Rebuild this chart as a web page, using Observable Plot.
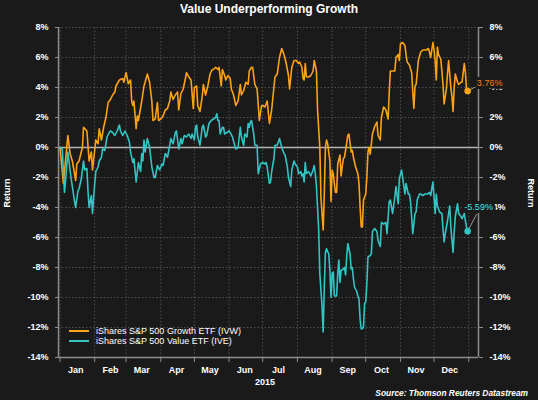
<!DOCTYPE html>
<html><head><meta charset="utf-8">
<script src="https://cdn.jsdelivr.net/npm/d3@7"></script>
<script src="https://cdn.jsdelivr.net/npm/@observablehq/plot@0.6"></script>
<style>
html,body{margin:0;padding:0;background:#1a1a1a;}
#wrap{position:relative;width:538px;height:400px;background:#1a1a1a;font-family:"Liberation Sans",Arial,sans-serif;color:#fff;overflow:hidden}
#wrap svg{position:absolute;left:0;top:0}
.title{position:absolute;left:0;top:2px;width:538px;text-align:center;font-weight:bold;font-size:12px;line-height:14px}
.ylab{position:absolute;top:193px;font-weight:bold;font-size:9px;line-height:10px;white-space:nowrap}
.legend{position:absolute;left:69px;font-size:9px;line-height:10px;height:10px;display:flex;align-items:center;white-space:nowrap}
.legend span.sw{display:inline-block;width:20px;height:2px;margin-right:7px}
.source{position:absolute;right:10px;top:388px;font-size:8.4px;line-height:10px;font-weight:bold;font-style:italic;white-space:nowrap}
</style></head>
<body><div id="wrap"></div>
<script>
// Day of year 2015 (0 = Jan 1) and cumulative return (%)
const growthDay = [0,3,7,9,11,14,15,17,20,21,24,26,28,29,32,34,35,37,39,41,43,45,47,49,50,53,56,57,59,61,63,64,65,66,68,69,70,73,75,76,78,80,82,83,85,87,88,
90,92,94,96,98,99,101,103,105,106,108,110,112,113,115,117,119,120,122,123,125,127,128,130,132,134,136,137,139,141,142,144,145,147,148,150,152,153,155,157,159,161,162,164,166,168,169,171,172,174,176,178,180,181,183,
185,187,189,191,192,194,196,198,200,202,204,205,207,209,211,213,214,216,217,218,219,220,222,224,226,227,229,230,232,233,235,236,237,238,239,241,242,243,244,245,246,247,248,250,251,252,253,254,255,257,258,260,261,262,264,266,267,268,269,270,271,273,274,275,276,277,279,281,
283,284,286,287,289,291,293,294,295,297,299,300,302,303,304,306,308,309,310,311,312,314,315,316,317,318,320,322,324,325,327,329,330,331,333,334,335,336,337,338,340,341,342,343,345,346,347,349,350,351,352,353,355,356,358,359,361,362,363,364];
const growthRet = [0,-2.4,0.8,-0.4,-0.9,-2.2,-1.1,-0.9,0,1.35,1.1,-0.9,-0.3,-1.5,0.5,0.25,1.25,0.5,1.35,2.0,3.0,3.2,3.5,3.7,4.1,4.5,4.6,4.35,5.0,4.25,4.5,3.1,2.8,3.1,1.25,2.1,1.8,3.1,4.1,4.35,4.9,4.35,3.1,1.8,1.9,3.0,1.8,
1.9,2.1,2.5,2.6,3.1,3.7,3.2,3.5,3.7,2.5,3.6,3.9,4.6,5.0,4.7,4.5,2.6,4.0,4.1,2.8,2.4,3.4,4.2,3.5,4.1,4.9,5.2,5.2,5.35,5.2,5.35,4.1,5.2,4.8,4.5,4.8,4.6,3.9,3.5,2.8,3.1,4.2,3.5,3.8,4.35,4.2,5.1,5.35,5.35,4.2,3.9,1.8,2.8,2.8,2.7,
3.1,1.6,2.5,4.0,4.7,4.9,6.0,6.6,6.2,5.6,4.8,3.9,5.35,5.8,5.8,5.6,5.7,5.35,4.6,4.5,5.6,4.7,4.7,4.8,5.1,5.8,5.1,2.5,0,-3.3,-5.5,-3.1,0,0.5,0.25,-0.9,-3.6,-1.5,-1.75,-2.4,-3.0,-3.0,-1.1,-0.5,-1.9,-1.3,-0.75,-0.65,-0.2,0.8,0.9,-0.3,-0.2,-0.65,-1.3,-1.75,-2.4,-4.0,-5.3,-5.3,-3.5,-3.1,-2.0,-0.3,0,-0.45,0.9,1.4,
1.7,0.8,0.5,2.0,2.7,2.5,1.9,3.7,5.1,5.1,5.1,6.0,6.2,5.8,6.9,7.0,6.8,6.2,5.7,5.6,5.5,5.0,3.7,2.6,4.1,4.2,5.8,6.35,6.5,6.5,6.5,6.6,6.35,6.0,7.0,6.5,5.8,4.5,6.7,6.2,5.9,5.1,4.2,2.9,3.9,4.9,5.8,4.0,3.4,2.4,4.0,4.9,4.35,4.2,4.35,4.35,5.6,5.0,3.9,3.76];

const valueDay = [0,2,4,5,7,8,10,12,13,14,16,17,19,21,22,24,25,26,28,29,31,32,34,35,37,38,40,42,44,45,47,49,51,53,54,56,58,60,62,63,65,66,68,70,72,73,74,75,76,78,80,82,84,85,87,89,
91,92,94,96,98,99,101,103,104,106,108,109,111,113,115,117,118,120,121,122,123,125,127,128,130,131,133,135,137,139,140,141,142,143,145,146,147,149,151,152,154,156,157,159,161,162,164,165,167,168,169,170,171,173,174,176,177,179,181,183,184,185,187,188,189,191,192,194,196,198,200,201,203,204,206,207,209,210,212,213,215,216,217,218,219,220,222,224,226,227,228,229,
231,232,234,235,236,237,238,240,241,242,243,244,245,247,248,249,250,251,253,254,255,256,257,259,260,261,262,263,265,266,267,268,269,271,272,273,274,275,277,278,279,281,283,284,286,287,289,291,292,294,295,297,299,300,302,303,305,306,308,309,311,312,313,314,315,317,318,319,321,322,324,326,328,330,331,333,334,335,336,337,339,341,342,343,344,346,347,348,349,351,352,353,355,356,358,359,361,362,363,364];
const valueRet = [0,-0.1,-3.0,-2.2,-0.3,-0.9,-2.1,-3.1,-3.6,-4.0,-2.9,-2.75,-2.1,-0.9,-1.5,-1.4,-2.9,-4.0,-3.2,-4.4,-2.4,-1.6,-1.3,-0.9,-0.65,-0.1,-0.2,0.7,1.0,1.1,1.0,0.8,1.1,1.5,1.1,0.8,1.1,0.8,0.35,-0.3,-1.0,-0.75,-2.3,-1.0,-1.6,-0.4,-0.9,0.5,-0.3,0.6,0,-1.3,-2.0,-2.0,-1.2,-1.5,
-1.1,-1.2,-0.4,-0.65,0.15,0.6,0.25,1.0,1.1,-0.1,0.6,0.25,0.8,0.7,0.9,0.6,0.9,0.5,1.35,1.5,0.7,0.15,1.35,1.5,0.7,0.8,1.6,1.8,1.9,2.0,2.25,1.8,1.8,0.9,1.35,1.35,0.9,1.0,1.1,1.0,0.7,0.15,-0.1,0,1.35,0.7,0.15,0.9,0.7,1.6,1.35,1.7,1.8,0.9,0.15,0.15,-1.75,-1.1,-1.0,-1.1,-1.0,-1.3,-2.4,-2.3,-1.6,-0.75,0.15,0.15,0.6,0,-0.4,-0.5,-1.3,-2.0,-2.6,-1.5,-0.9,-1.1,-1.3,-1.75,-1.6,-1.9,-1.75,-2.3,-1.0,-1.75,-1.6,-1.9,-1.5,-1.2,-1.75,-2.6,
-5.5,-8.4,-10.6,-12.3,-9.3,-7.0,-6.75,-7.1,-8.2,-10.0,-8.4,-8.3,-9.9,-9.9,-8.4,-7.5,-9.0,-8.2,-8.1,-8.0,-8.5,-7.3,-6.4,-7.1,-8.1,-8.0,-8.75,-9.3,-9.6,-9.9,-10.1,-11.5,-12.1,-12.0,-10.4,-10.3,-9.1,-7.3,-7.2,-7.1,-5.6,-5.4,-5.6,-6.2,-6.6,-5.0,-5.1,-5.0,-5.75,-3.6,-3.5,-4.4,-3.3,-2.6,-3.75,-2.1,-1.5,-2.0,-3.1,-2.4,-3.1,-3.1,-3.6,-4.6,-5.75,-4.4,-4.3,-3.5,-3.1,-3.1,-3.2,-3.1,-3.1,-3.0,-3.2,-2.3,-3.3,-4.4,-3.1,-3.9,-4.3,-4.4,-5.4,-6.3,-5.75,-4.9,-4.4,-3.9,-5.3,-7.0,-5.6,-4.6,-3.75,-4.4,-4.6,-4.75,-4.4,-4.9,-5.3,-5.59];

const seriesNames = ["iShares S&P 500 Growth ETF (IVW)", "iShares S&P 500 Value ETF (IVE)"];
const yTicks = [-14,-12,-10,-8,-6,-4,-2,0,2,4,6,8];
const monthLabels = ["Jan","Feb","Mar","Apr","May","Jun","Jul","Aug","Sep","Oct","Nov","Dec"];
const yearLabel = "2015";
const titleText = "Value Underperforming Growth";
const yLabel = "Return";
const sourceText = "Source: Thomson Reuters Datastream";

const bg = "#1a1a1a";
const orange = "#fba216";
const teal = "#33c4c4";
const DAY = 864e5;
const t0 = Date.UTC(2015,0,1);
const dayToDate = d => new Date(t0 + d*DAY);

const growth = growthDay.map((d,i)=>({date: dayToDate(d), ret: growthRet[i]}));
const value = valueDay.map((d,i)=>({date: dayToDate(d), ret: valueRet[i]}));
const lastG = growth[growth.length-1];
const lastV = value[value.length-1];

const monthStarts = d3.utcMonths(new Date(Date.UTC(2015,0,1)), new Date(Date.UTC(2016,0,2)));
const midMonths = monthStarts.slice(0,12).map(d => new Date(d.getTime() + 14*DAY));
const xDomain = [dayToDate(-1.34), dayToDate(373.7)];
const yearMid = dayToDate(183);

const font = {fontSize: 9, fontWeight: "bold"};
const grid = {stroke: "#505050", strokeOpacity: 1, strokeDasharray: "1.5,2"};

const chart = Plot.plot({
  width: 538, height: 400,
  marginLeft: 58, marginRight: 60, marginTop: 27, marginBottom: 43,
  style: {background: "transparent", color: "#fff", fontFamily: '"Liberation Sans", Arial, sans-serif', fontSize: "9px", fontWeight: "bold", overflow: "visible"},
  x: {type: "utc", domain: xDomain},
  y: {domain: [-14, 8]},
  marks: [
    Plot.gridY(yTicks, grid),
    Plot.gridX(monthStarts, grid),
    Plot.ruleY([0], {stroke: "#b4b4b4", strokeWidth: 1.5}),
    Plot.ruleX([xDomain[0]], {stroke: "#8c8c8c", strokeWidth: 1.5}),
    Plot.ruleX([xDomain[1]], {stroke: "#8c8c8c", strokeWidth: 1.5}),
    Plot.ruleY([-14], {stroke: "#8c8c8c", strokeWidth: 1.5}),
    Plot.line(growth, {x: "date", y: "ret", stroke: orange, strokeWidth: 1.6}),
    Plot.line(value, {x: "date", y: "ret", stroke: teal, strokeWidth: 1.6}),
    Plot.axisY(yTicks, {anchor: "left", tickFormat: d => d + "%", tickSize: 3, tickPadding: 7, stroke: "#8c8c8c", fill: "#fff", label: null, ...font}),
    Plot.axisY(yTicks, {anchor: "right", tickFormat: d => d + "%", tickSize: 4, tickPadding: 7, stroke: "#8c8c8c", fill: "#fff", label: null, ...font}),
    Plot.axisX(monthStarts, {anchor: "bottom", tickSize: 5, tickFormat: () => "", stroke: "#8c8c8c", label: null}),
    Plot.axisX(midMonths, {anchor: "bottom", tickSize: 0, tickPadding: 9, tickFormat: d => monthLabels[d.getUTCMonth()], fill: "#fff", label: null, ...font}),
    Plot.text([yearLabel], {x: () => yearMid, text: d => d, frameAnchor: "bottom", dy: 27, fill: "#fff", ...font}),
    Plot.link([lastG], {x1: "date", y1: "ret", x2: d => new Date(d.date.getTime() + 7.5*DAY), y2: d => d.ret + 0.3, stroke: "#999", strokeWidth: 1}),
    Plot.link([lastV], {x1: "date", y1: "ret", x2: d => new Date(d.date.getTime() + 8*DAY), y2: d => d.ret + 1.15, stroke: "#999", strokeWidth: 1}),
    Plot.dot([lastG], {x: "date", y: "ret", r: 3.3, fill: orange}),
    Plot.dot([lastV], {x: "date", y: "ret", r: 3.3, fill: teal}),
    Plot.text([lastG], {x: "date", y: "ret", text: d => d.ret.toFixed(2) + "%", dx: 22, dy: -8, fill: "#ff7d10", stroke: bg, strokeWidth: 6, fontSize: 9, fontWeight: "normal"}),
    Plot.text([lastV], {x: "date", y: "ret", text: d => d.ret.toFixed(2) + "%", dx: 11, dy: -24.5, fill: "#3ee6e6", stroke: bg, strokeWidth: 6, fontSize: 9, fontWeight: "normal"})
  ]
});

const wrap = document.getElementById("wrap");
wrap.appendChild(chart);

function addDiv(cls, text, css) {
  const el = document.createElement("div");
  el.className = cls;
  el.textContent = text;
  if (css) Object.assign(el.style, css);
  wrap.appendChild(el);
  return el;
}
addDiv("title", titleText);
addDiv("ylab", yLabel, {left: "7px", transform: "translate(-50%,-50%) rotate(-90deg)"});
addDiv("ylab", yLabel, {left: "531px", transform: "translate(-50%,-50%) rotate(90deg)"});
addDiv("source", sourceText);
[[orange, 325.5], [teal, 335.5]].forEach(([c, top], i) => {
  const row = document.createElement("div");
  row.className = "legend";
  row.style.top = top + "px";
  const sw = document.createElement("span");
  sw.className = "sw";
  sw.style.background = c;
  row.appendChild(sw);
  row.appendChild(document.createTextNode(seriesNames[i]));
  wrap.appendChild(row);
});
</script>
</body></html>
